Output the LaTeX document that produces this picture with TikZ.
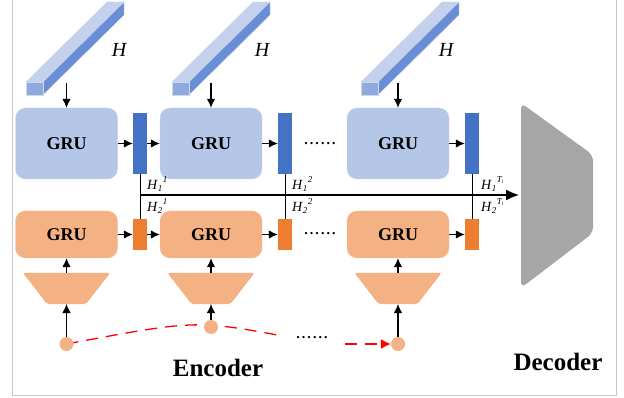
\documentclass[tikz,border=0pt]{standalone}
\usepackage{fontspec}
\setmainfont{Liberation Serif}
\newfontfamily\spaceddots[LetterSpace=15]{Liberation Serif}
\usetikzlibrary{arrows.meta,positioning}

\definecolor{gruBlue}{HTML}{B4C7E7}
\definecolor{gruBlueLine}{HTML}{C9D5EB}
\definecolor{barBlue}{HTML}{4472C4}
\definecolor{gruOrange}{HTML}{F4B183}
\definecolor{barOrange}{HTML}{ED7D31}
\definecolor{prismTop}{HTML}{C3D1EC}
\definecolor{prismSide}{HTML}{6A8ED6}
\definecolor{prismFront}{HTML}{8FAADC}
\definecolor{prismLine}{HTML}{D0D8E8}
\definecolor{decGray}{HTML}{A6A6A6}
\definecolor{frameGray}{HTML}{C8C8C8}

\newcommand{\hlab}[2]{\textit{H}\raisebox{-0.35ex}{\fontsize{9}{9}\selectfont\textit{#1}}\kern0.5pt\raisebox{1.0ex}{\fontsize{9}{9}\selectfont\textit{#2}}}

\tikzset{
  bluegru/.style={draw=gruBlueLine, fill=gruBlue, rounded corners=10pt, minimum width=102pt, minimum height=71pt, inner sep=0pt, font=\fontsize{18}{18}\selectfont\bfseries},
  orangegru/.style={draw=gruOrange!80!white, fill=gruOrange, rounded corners=10pt, minimum width=102pt, minimum height=47pt, inner sep=0pt, font=\fontsize{18}{18}\selectfont\bfseries},
  bluebar/.style={fill=barBlue, minimum width=14pt, minimum height=61pt, inner sep=0pt},
  orangebar/.style={fill=barOrange, minimum width=14pt, minimum height=31pt, inner sep=0pt},
  inputdot/.style={circle, fill=gruOrange, minimum size=14pt, inner sep=0pt},
  arr/.style={line width=1.1pt, -{Latex[length=9pt,width=8.5pt]}},
  link/.style={line width=1pt},
  bigarr/.style={line width=1.3pt, -{Latex[length=13pt,width=11pt]}},
  reddash/.style={red, line width=1.3pt, dash pattern=on 12pt off 8pt},
  hlabel/.style={anchor=west, inner sep=0pt, font=\fontsize{14}{14}\selectfont},
  dotrow/.style={font=\fontsize{14}{14}\selectfont\spaceddots\bfseries},
  title/.style={font=\fontsize{25}{25}\selectfont\bfseries}
}

\begin{document}
\begin{tikzpicture}[x=1pt,y=-1pt]
    \useasboundingbox (0,0) rectangle (624,398);

    % frame
    \draw[frameGray, line width=1pt] (12,-2) -- (12,395) -- (616,395) -- (616,-2);

    % input sequence
    \coordinate (p1) at (66.5,344);
    \coordinate (curveend) at (283,336);
    \coordinate (curvestart) at (345,344);
    \draw[reddash] (p1) .. controls (195,320) .. (curveend);

    % prisms
    \foreach \px in {26,172,361} {
        \draw[prismLine, fill=prismTop] (\px,82) -- (\px+17,82) -- (\px+98,2) -- (\px+81,2) -- cycle;
        \draw[prismLine, fill=prismSide] (\px+17,82) -- (\px+17,95) -- (\px+98,15) -- (\px+98,2) -- cycle;
        \draw[prismLine, fill=prismFront] (\px,82) rectangle (\px+17,95);
    }

    \foreach \i/\gx/\bx/\hx/\cy in {1/66.5/140/119/344, 2/211/285/262/327, 3/398/472/446/344} {
        \node[font=\fontsize{20}{20}\selectfont\itshape] (hname\i) at (\hx,50) {H};
        \coordinate (hin\i) at (\gx,83);
        \node[bluegru] (bgru\i) at (\gx,143.5) {GRU};
        \node[bluebar] (bbar\i) at (\bx,143.5) {};
        \node[orangegru] (ogru\i) at (\gx,234.5) {GRU};
        \node[orangebar] (obar\i) at (\bx,234.5) {};
        \fill[gruOrange, rounded corners=2pt] (\gx-43.5,273) -- (\gx+43.5,273) -- (\gx+19.5,304) -- (\gx-19.5,304) -- cycle;
        \coordinate (encout\i) at (\gx,273);
        \coordinate (encin\i) at (\gx,304);
        \node[inputdot] (circ\i) at (\gx,\cy) {};

        \draw[arr] (hin\i) -- (bgru\i);
        \draw[arr] (bgru\i) -- (bbar\i);
        \draw[arr] (ogru\i) -- (obar\i);
        \draw[link] (bbar\i) -- (obar\i);
        \draw[arr] (encout\i) -- (ogru\i);
        \draw[arr] (circ\i) -- (encin\i);
    }

    \draw[arr] (bbar1) -- (bgru2);
    \draw[arr] (obar1) -- (ogru2);

    \draw[reddash, -{Latex[length=10pt,width=10pt]}] (curvestart) -- (circ3);

    % decoder
    \fill[decGray, rounded corners=6pt] (521,103) -- (593,155) -- (593,233) -- (521,288) -- cycle;
    \coordinate (decin) at (519,195);
    \draw[bigarr] (bbar1.south |- decin) -- (decin);

    % hidden state labels
    \node[hlabel] (h11) at (147,184) {\hlab{1}{1}};
    \node[hlabel] (h21) at (147,206) {\hlab{2}{1}};
    \node[hlabel] (h12) at (292,184) {\hlab{1}{2}};
    \node[hlabel] (h22) at (292,206) {\hlab{2}{2}};
    \node[hlabel] (h1t) at (481,184) {\hlab{1}{T\raisebox{-0.3ex}{\fontsize{5}{5}\selectfont l}}};
    \node[hlabel] (h2t) at (481,206) {\hlab{2}{T\raisebox{-0.3ex}{\fontsize{5}{5}\selectfont l}}};

    \node[dotrow] (dotsb) at (320,144) {......};
    \node[dotrow] (dotso) at (320,234) {......};
    \node[dotrow] (dotsi) at (312,338) {......};

    \node[title] (encoder) at (218,368) {Encoder};
    \node[title] (decoder) at (558,362) {Decoder};

\end{tikzpicture}
\end{document}
